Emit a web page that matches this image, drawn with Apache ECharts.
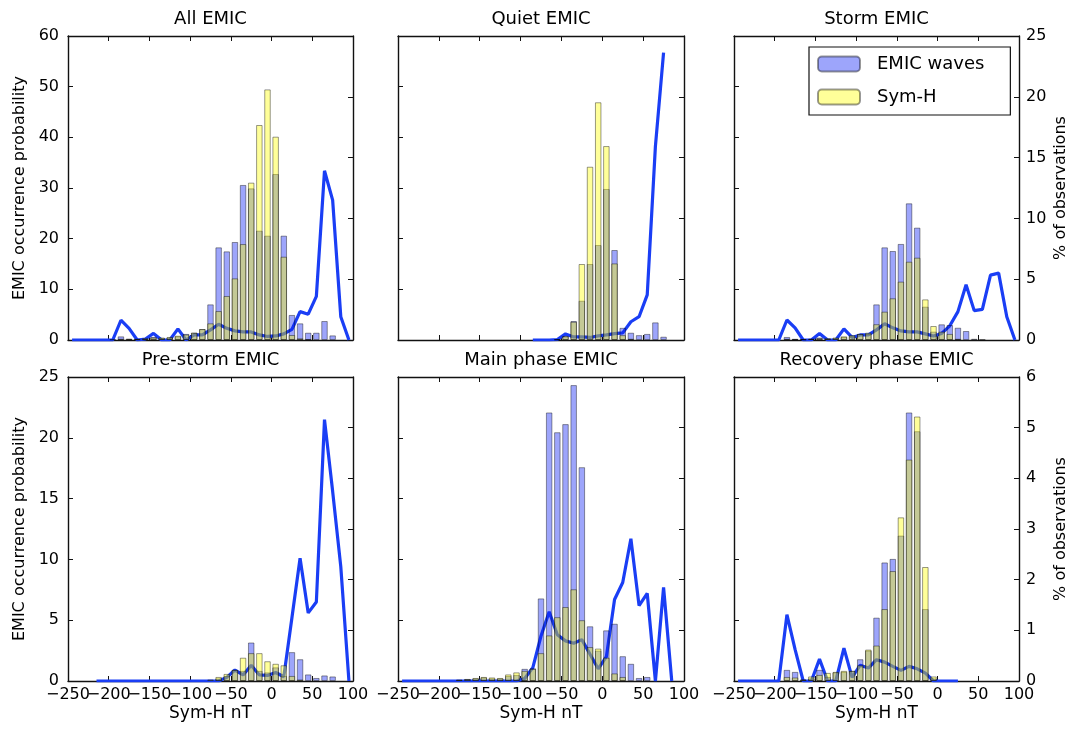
<!DOCTYPE html>
<html><head><meta charset="utf-8">
<script src="https://cdn.jsdelivr.net/npm/echarts@6/dist/echarts.min.js"></script>
<style>html,body{margin:0;padding:0;background:#fff}#c{width:1072px;height:730px}</style>
</head><body><div id="c"></div>
<script>
// Sym-H bin centres (nT)
const binCenters = [-245,-235,-225,-215,-205,-195,-185,-175,-165,-155,-145,-135,-125,-115,-105,-95,-85,-75,-65,-55,-45,-35,-25,-15,-5,5,15,25,35,45,55,65,75,85,95];
// x tick labels (Sym-H nT)
const xTickLabels = ['\u2212250','\u2212200','\u2212150','\u2212100','\u221250','0','50','100'];

const panelTitles = ['All EMIC','Quiet EMIC','Storm EMIC','Pre-storm EMIC','Main phase EMIC','Recovery phase EMIC'];

// % of observations (right axis) : EMIC waves / Sym-H ; EMIC occurrence probability (left axis)
const allWaves = [0,0,0,0,0,0.05, 0.3,0.1,0.05,0.1,0.25,0.15,0.2,0.3,0.5,0.6,0.9, 2.93,7.62,7.29,8.06,12.75,12.47,8.99,8.58,13.65,8.58,2.06,1.37,0.6,0.6,1.56,0.38,0,0];
const allSymH  = [0,0,0,0,0,0, 0.1,0.1,0.1,0.15,0.2,0.2,0.25,0.35,0.45,0.6,0.9, 1.37,2.38,3.62,5.07,7.89,12.94,17.68,20.61,16.72,6.85,0.41,0.14,0.05,0,0,0,0,0];
const allProb  = [0,0,0,0,0,0, 3.9,2.3,0,0.2,1.3,0,0,2.2,0,1.0,1.0, 2.0,3.1,2.3,1.8,1.6,1.6,1.0,0.7,0.8,1.2,2.1,5.6,5.1,8.6,33.4,27.6,4.6,0];

const quietWaves = [0,0,0,0,0,0,0,0,0,0,0,0,0,0,0,0,0,0,0, 0.05,0.33,1.56,3.23,6.25,7.81,12.42,7.4,1.0,0.6,0.4,0.5,1.45,0.27,0,0];
const quietSymH  = [0,0,0,0,0,0,0,0,0,0,0,0,0,0,0,0,0,0,0, 0.05,0.3,1.5,6.25,14.25,19.55,15.95,6.3,0.4,0.1,0,0,0,0,0,0];
const quietProb  = [null,null,null,null,null,null,null,null,null,null,null,null,null,null,null,null, 0,0,0,0.1,1.2,0.6,0.6,0.5,0.8,1.0,1.25,1.4,3.6,4.6,8.9,38.2,56.7,null,null];

const stormWaves = [0,0,0,0,0,0, 0.25,0.1,0.05,0.1,0.2,0.1,0.15,0.25,0.3,0.5,0.5, 2.93,7.62,7.32,7.9,11.24,9.24,2.74,0.69,1.29,1.23,1.01,0.74,0.1,0.05,0,0,0,0];
const stormSymH  = [0,0,0,0,0,0, 0.1,0.05,0.05,0.1,0.15,0.15,0.2,0.3,0.4,0.5,0.6, 1.3,2.33,3.43,4.8,6.44,6.77,3.34,1.15,0.69,0.5,0.1,0,0,0,0,0,0,0];
const stormProb  = [0,0,0,0,0,0, 3.95,2.4,0,0,1.3,0,0,2.2,0.5,1.0,1.0, 2.0,3.2,2.4,1.8,1.6,1.6,1.2,0.8,1.3,2.8,5.6,10.9,5.8,6.05,12.8,13.2,4.6,0];

const preWaves = [0,0,0,0,0,0,0,0,0,0,0,0,0,0,0,0,0,0, 0.05,0.1,0.22,0.2,0.76,0.2,0.17,0.27,0.1,0.57,0.43,0.13,0.06,0.11,0.09,0,0];
const preSymH  = [0,0,0,0,0,0,0,0,0,0,0,0,0,0,0,0,0, 0.03,0.08,0.14,0.22,0.46,0.55,0.55,0.39,0.34,0.31,0.1,0.03,0,0,0,0,0,0];
const preProb  = [null,null,null, 0,0,0,0,0,0,0,0,0,0,0,0,0,0,0,0, 0.3,0.9,0.5,1.3,0.5,0.45,0.7,0.35,5.2,10.1,5.6,6.5,21.5,15.6,9.4,0];

const mainWaves = [0,0,0,0,0,0,0, 0.02,0.04,0.05,0.07,0.05,0.05,0.1,0.12,0.24,0.25, 1.63,5.3,4.91,5.07,5.84,4.22,1.08,0.6,1.0,1.13,0.49,0.34,0.06,0.08,0,0,0,0];
const mainSymH  = [0,0,0,0,0,0,0, 0.03,0.04,0.06,0.08,0.07,0.06,0.13,0.17,0.2,0.24, 0.55,0.9,1.26,1.46,1.81,1.2,0.67,0.64,0.46,0.15,0.08,0,0,0,0,0,0,0];
const mainProb  = [0,0,0,0,0,0,0,0,0,0,0,0,0,0,0, 0.2,1.1,3.7,5.7,3.8,3.3,3.1,3.4,2.2,1.0,2.0,6.7,8.1,11.7,6.2,7.2,0,7.7,0,null];

const recWaves = [0,0,0,0,0,0, 0.22,0.18,0.03,0.05,0.22,0.08,0.17,0.18,0.2,0.43,0.6, 1.25,2.34,2.41,2.87,5.3,4.93,1.42,0.05,0,0,0,0,0,0,0,0,0,0];
const recSymH  = [0,0,0,0,0,0, 0.08,0.07,0.03,0.09,0.12,0.16,0.18,0.2,0.2,0.31,0.62, 0.7,1.42,2.17,3.23,4.37,5.22,2.25,0.09,0,0,0,0,0,0,0,0,0,0];
const recProb  = [0,0,0,0,0,0, 5.46,2.6,0,0,1.8,0,0,2.7,0.3,1.3,1.06, 1.75,1.55,1.2,0.87,1.2,1.0,0.65,0,0,0,0,null,null,null,null,null,null,null];

const panelWaves = [allWaves, quietWaves, stormWaves, preWaves, mainWaves, recWaves];
const panelSymH  = [allSymH, quietSymH, stormSymH, preSymH, mainSymH, recSymH];
const panelProb  = [allProb, quietProb, stormProb, preProb, mainProb, recProb];

// axis ranges per row: [left max, left interval, right max, right interval]
const rowAxes = [[60,10,25,5],[25,5,6,1]];

const FONT = 'DejaVu Sans';
const gridPos = [
  {left:68, top:36, width:285, height:304},
  {left:398, top:36, width:286, height:304},
  {left:734, top:36, width:285, height:304},
  {left:68, top:377, width:285, height:304},
  {left:398, top:377, width:286, height:304},
  {left:734, top:377, width:285, height:304}
];

const axisLine = {show:true, onZero:false, lineStyle:{color:'#111', width:1.4}};
const axisTick = {show:true, inside:true, length:5, lineStyle:{color:'#111', width:1}};

const grid = [], xAxis = [], yAxis = [], series = [], title = [];
gridPos.forEach((g, i) => {
  const row = Math.floor(i / 3), col = i % 3;
  const ax = rowAxes[row];
  grid.push(Object.assign({containLabel:false}, g));
  title.push({text: panelTitles[i], left: g.left + g.width / 2, top: g.top - 26, textAlign:'center', padding:0,
    textStyle:{fontFamily:FONT, fontSize:18, fontWeight:'normal', color:'#000'}});
  const xb = xAxis.length;
  xAxis.push({gridIndex:i, type:'value', min:-250, max:100, interval:50, position:'bottom',
    axisLine, axisTick, splitLine:{show:false}, axisLabel:{show:false}});
  xAxis.push({gridIndex:i, type:'value', min:-250, max:100, interval:50, position:'top',
    axisLine, axisTick, splitLine:{show:false}, axisLabel:{show:false}});
  if (row === 1) {
    xAxis.push({gridIndex:i, type:'category', data: xTickLabels, boundaryGap:false, position:'bottom',
      axisLine:{show:false, onZero:false}, axisTick:{show:false}, splitLine:{show:false},
      axisLabel:{interval:0, fontFamily:FONT, fontSize:16, color:'#000', margin:6},
      name:'Sym-H nT', nameLocation:'middle', nameGap:24,
      nameTextStyle:{fontFamily:FONT, fontSize:17, color:'#000'}});
  }
  yAxis.push({gridIndex:i, type:'value', min:0, max:ax[0], interval:ax[1], position:'left',
    axisLine, axisTick, splitLine:{show:false},
    axisLabel:{show: col === 0, fontFamily:FONT, fontSize:16, color:'#000', margin:9},
    name: col === 0 ? 'EMIC occurrence probability' : '', nameLocation:'middle', nameRotate:90, nameGap:40,
    nameTextStyle:{fontFamily:FONT, fontSize:16, color:'#000'}});
  yAxis.push({gridIndex:i, type:'value', min:0, max:ax[2], interval:ax[3], position:'right',
    axisLine, axisTick, splitLine:{show:false},
    axisLabel:{show: col === 2, fontFamily:FONT, fontSize:16, color:'#000', margin:7},
    name: col === 2 ? '% of observations' : '', nameLocation:'middle', nameRotate:90, nameGap:34,
    nameTextStyle:{fontFamily:FONT, fontSize:16, color:'#000'}});

  const lineData = [];
  panelProb[i].forEach((v, k) => { if (v !== null) lineData.push([binCenters[k], v]); });
  series.push({type:'line', name:'EMIC occurrence probability', xAxisIndex:xb, yAxisIndex:2*i, data: lineData,
    symbol:'none', z:1, lineStyle:{color:'#1a3ef5', width:3.2}, itemStyle:{color:'#1a3ef5'}, silent:true});
  const waves = [], symh = [];
  panelWaves[i].forEach((v, k) => { if (v > 0) waves.push([binCenters[k], v]); });
  panelSymH[i].forEach((v, k) => { if (v > 0) symh.push([binCenters[k], v]); });
  series.push({type:'bar', name:'EMIC waves', xAxisIndex:xb, yAxisIndex:2*i+1, data: waves,
    barWidth:6.5, barGap:'-100%', z:2, silent:true,
    itemStyle:{color:'rgba(10,30,245,0.4)', borderColor:'rgba(0,0,0,0.4)', borderWidth:1}});
  series.push({type:'bar', name:'Sym-H', xAxisIndex:xb, yAxisIndex:2*i+1, data: symh,
    barWidth:6.5, barGap:'-100%', z:3, silent:true,
    itemStyle:{color:'rgba(255,255,0,0.4)', borderColor:'rgba(0,0,0,0.4)', borderWidth:1}});
});

const chart = echarts.init(document.getElementById('c'), null, {renderer:'canvas'});
chart.setOption({
  animation:false,
  backgroundColor:'#fff',
  title, grid, xAxis, yAxis, series,
  legend:{data:['EMIC waves','Sym-H'], orient:'vertical', left:809, top:47, selectedMode:false,
    itemWidth:42, itemHeight:15, itemGap:15, padding:[8,26,9,8],
    borderColor:'#111', borderWidth:1.2, backgroundColor:'#fff',
    textStyle:{fontFamily:FONT, fontSize:18, color:'#000', padding:[0,0,0,12]}}
});
</script>
</body></html>
